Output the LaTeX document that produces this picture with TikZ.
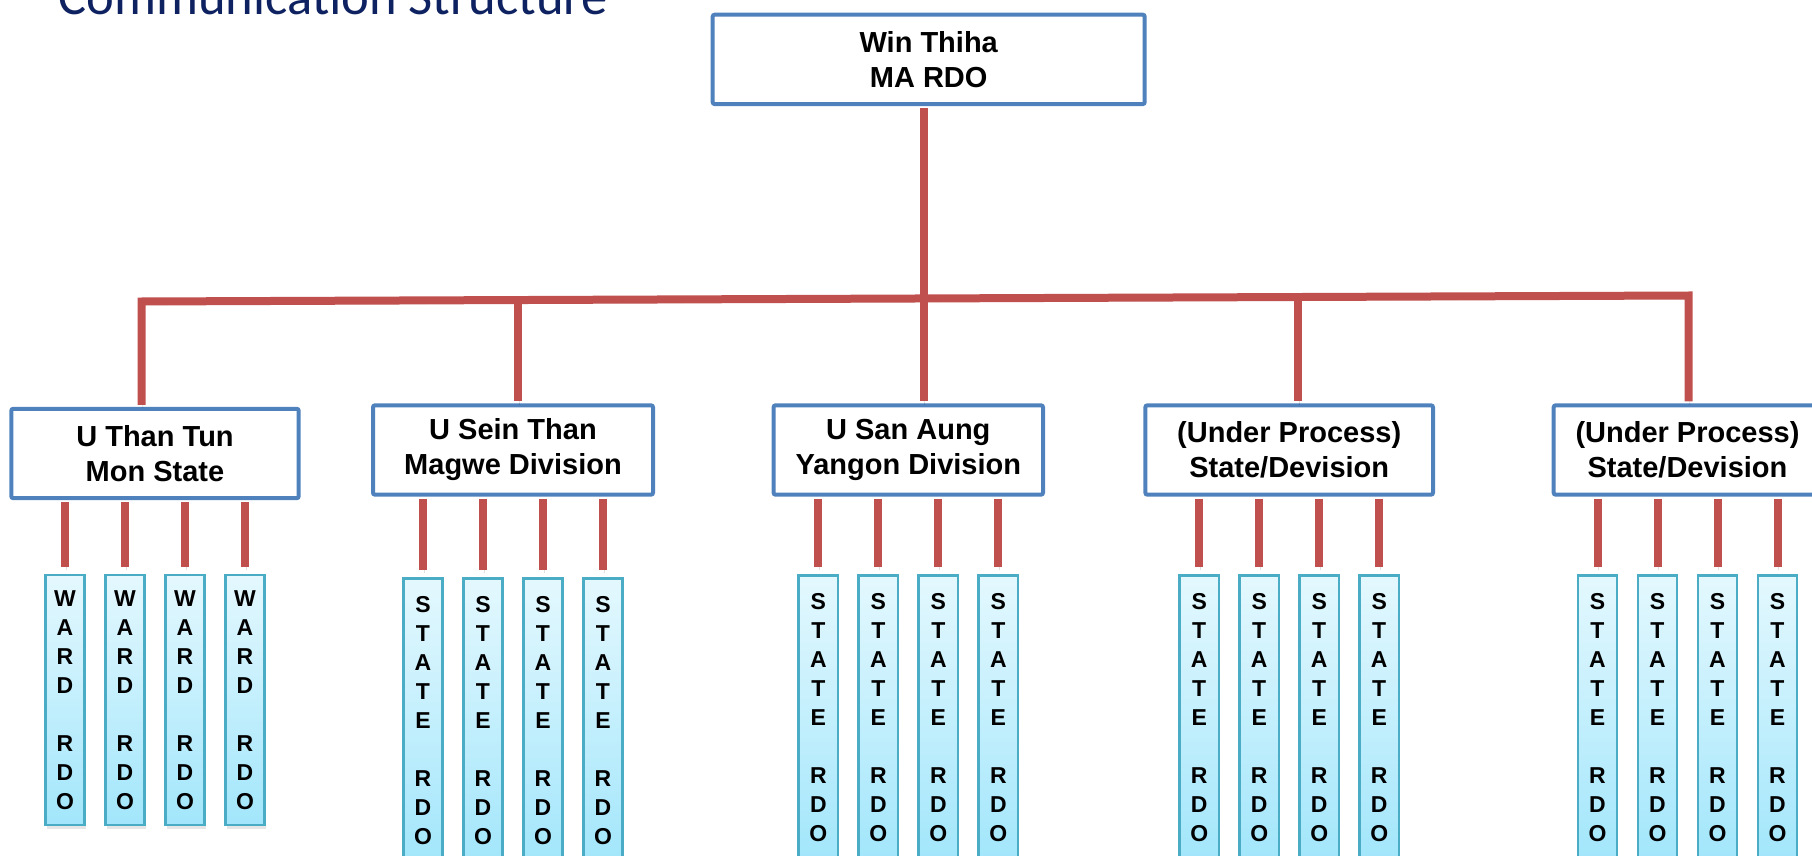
\documentclass[tikz,border=0pt]{standalone}
\usepackage{fontspec}
\setmainfont{Liberation Sans}
\newfontfamily\titlefont{Carlito}
\usetikzlibrary{shadows}

\definecolor{boxblue}{HTML}{4F81BD}
\definecolor{linkred}{HTML}{C0504D}
\definecolor{rdoedge}{HTML}{4BACC6}
\definecolor{rdotop}{HTML}{E4F8FE}
\definecolor{rdobottom}{HTML}{A2E6FB}
\definecolor{titleblue}{HTML}{0E2160}

\newcommand{\wardtxt}{W\\A\\R\\D\\[14.5pt]R\\D\\O}
\newcommand{\statetxt}{S\\T\\A\\T\\E\\[14.5pt]R\\D\\O}

\begin{document}
\begin{tikzpicture}[
    x=0.5pt, y=-0.5pt,
    every node/.style={font=\fontsize{14.5}{17.5}\selectfont\bfseries, align=center},
    headbox/.style={draw=boxblue, line width=2pt, rounded corners=1pt, fill=white, inner sep=0pt, minimum height=44.7pt},
    link/.style={draw=linkred, line width=4pt, preaction={draw=black, opacity=0.12, transform canvas={xshift=0.6pt, yshift=-1.6pt}}},
    rdobox/.style={draw=rdoedge, line width=1.25pt, top color=rdotop, bottom color=rdobottom, inner sep=0pt, minimum width=19.6pt, anchor=north, font=\fontsize{11.5}{14.5}\selectfont\bfseries, drop shadow={opacity=0.2, shadow xshift=0.6pt, shadow yshift=-2pt}},
    wardbox/.style={rdobox, minimum height=124.9pt},
    statebox/.style={rdobox, minimum height=142.5pt},
    kids/.style 2 args={level distance=#1, level 1/.style={xshift=#2}},
    sibling distance=30pt,
    edge from parent/.style={link, shorten <=1pt, shorten >=3.5pt},
    edge from parent path={(\tikzparentnode.south -| \tikzchildnode.north) -- (\tikzchildnode.north)}
  ]
  \useasboundingbox (0,0) rectangle (1812,856);
  \clip (0,0) rectangle (1812,856);

  \node[font=\titlefont\fontsize{26.3}{30}\selectfont, text=titleblue, anchor=base west, inner sep=0pt] (title) at (58,14.5) {Communication Structure};

  \node[headbox, minimum width=216pt] (ma) at (928.7,59.4) {Win Thiha\\MA RDO};

  % divisions with their RDOs
  \path[kids={60.2pt}{-1.25pt}] node[headbox, minimum width=143.7pt] (than) at (155,453.5) {U Than Tun\\Mon State}
    child {node[wardbox] (w1) {\wardtxt}}
    child {node[wardbox] (w2) {\wardtxt}}
    child {node[wardbox] (w3) {\wardtxt}}
    child {node[wardbox] (w4) {\wardtxt}};
  \path[kids={63.6pt}{5.1pt}] node[headbox, minimum width=140pt] (sein) at (513,450) {U Sein Than\\Magwe Division}
    child {node[statebox] (m1) {\statetxt}}
    child {node[statebox] (m2) {\statetxt}}
    child {node[statebox] (m3) {\statetxt}}
    child {node[statebox] (m4) {\statetxt}};
  \path[kids={62pt}{2.25pt}] node[headbox, minimum width=134.7pt] (aung) at (908.3,450) {U San Aung\\Yangon Division}
    child {node[statebox] (y1) {\statetxt}}
    child {node[statebox] (y2) {\statetxt}}
    child {node[statebox] (y3) {\statetxt}}
    child {node[statebox] (y4) {\statetxt}};
  \path[kids={62pt}{7pt}] node[headbox, minimum width=143.8pt] (proc1) at (1289.2,450) {(Under Process)\\State/Devision}
    child {node[statebox] (p1) {\statetxt}}
    child {node[statebox] (p2) {\statetxt}}
    child {node[statebox] (p3) {\statetxt}}
    child {node[statebox] (p4) {\statetxt}};
  \path[kids={62pt}{2.85pt}] node[headbox, minimum width=133.8pt] (proc2) at (1687.5,450) {(Under Process)\\State/Devision}
    child {node[statebox] (q1) {\statetxt}}
    child {node[statebox] (q2) {\statetxt}}
    child {node[statebox] (q3) {\statetxt}}
    child {node[statebox] (q4) {\statetxt}};

  % the long bar
  \coordinate (d1) at (141.5,301.5);
  \coordinate (d2) at (518,300);
  \coordinate (d3) at (923.5,298.5);
  \coordinate (d4) at (1298,297);
  \coordinate (d5) at (1688.5,295.5);
  \draw[link, shorten <=1pt] (ma.south -| d3) -- (d3);
  \draw[link, shorten <=1pt, shorten >=1pt] (than.north -| d1) -- (d1) -- (d5) -- (proc2.north -| d5);
  \draw[link, shorten >=1pt] (d2) -- (sein.north -| d2);
  \draw[link, shorten >=1pt] (d3) -- (aung.north -| d3);
  \draw[link, shorten >=1pt] (d4) -- (proc1.north -| d4);
\end{tikzpicture}
\end{document}
